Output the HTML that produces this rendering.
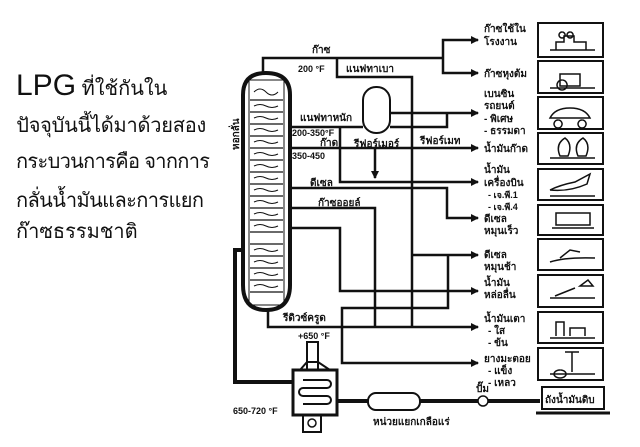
<!DOCTYPE html>
<html><head><meta charset="utf-8"><style>
body{margin:0;background:#fff;width:640px;height:447px;overflow:hidden}
svg{position:absolute;left:0;top:0}
text{font-family:"Liberation Sans","Noto Sans CJK SC",sans-serif;fill:#111}
</style></head><body>
<svg width="640" height="447" viewBox="0 0 640 447">
<defs><marker id="a" markerWidth="8" markerHeight="8" refX="7" refY="4" orient="auto" markerUnits="userSpaceOnUse"><path d="M0,0L8,4L0,8z" fill="#111"/></marker></defs>
<g font-size="20">
<text x="16" y="95"><tspan font-size="30">LPG</tspan> ที่ใช้กันใน</text>
<text x="16" y="132" textLength="190">ปัจจุบันนี้ได้มาด้วยสอง</text>
<text x="16" y="168" textLength="194">กระบวนการคือ จากการ</text>
<text x="16" y="207" textLength="188">กลั่นน้ำมันและการแยก</text>
<text x="16" y="238">ก๊าซธรรมชาติ</text>
</g>
<g fill="none" stroke="#111" stroke-width="2.5">
<path d="M243,95 Q243,73 266,73 Q290,73 290,95 L290,285 Q290,310 266,310 Q243,310 243,285 Z" stroke-width="4"/>
<rect x="249" y="80" width="35" height="225" stroke-width="1"/>
<path d="M250,100h33M250,112h33M250,124h33M250,136h33M250,148h33M250,160h33M250,172h33M250,184h33M250,196h33M250,208h33M250,220h33M250,232h33M250,244h33M250,256h33M250,268h33M250,280h33M250,292h33" stroke-width="1.2"/>
<path d="M254,106q6,-3 12,0t12,0M254,118q6,-3 12,0t12,0M254,130q6,-3 12,0t12,0M254,142q6,-3 12,0t12,0M254,154q6,-3 12,0t12,0M254,166q6,-3 12,0t12,0M254,178q6,-3 12,0t12,0M254,190q6,-3 12,0t12,0M254,202q6,-3 12,0t12,0M254,214q6,-3 12,0t12,0M254,226q6,-3 12,0t12,0M254,250q6,-3 12,0t12,0M254,262q6,-3 12,0t12,0M254,274q6,-3 12,0t12,0M254,286q6,-3 12,0t12,0M254,92q6,-6 12,0t12,0" stroke-width="1"/>
<path d="M263,73V58H443"/>
<path d="M443,58V40H478" marker-end="url(#a)"/>
<path d="M443,58V73H478" marker-end="url(#a)"/>
<path d="M337,58V77H412V327"/>
<rect x="363" y="87" width="27" height="46" rx="13" stroke-width="2"/>
<path d="M290,127H363"/>
<path d="M390,113H478" marker-end="url(#a)"/>
<path d="M390,127H447V113"/>
<path d="M290,148H478" marker-end="url(#a)"/>
<path d="M375,148V178" marker-end="url(#a)"/>
<path d="M340,127V182H478" marker-end="url(#a)"/>
<path d="M290,188H447V218H478" marker-end="url(#a)"/>
<path d="M290,208H375V327"/>
<path d="M290,228H340V291H478" marker-end="url(#a)"/>
<path d="M412,255H478" marker-end="url(#a)"/>
<path d="M448,255V308H342V363H478" marker-end="url(#a)"/>
<path d="M268,310V327H478" marker-end="url(#a)"/>
<rect x="307" y="342" width="11" height="28" stroke-width="2"/>
<path d="M300,370L307,362H318L330,370Z" stroke-width="2"/>
<rect x="293" y="370" width="44" height="45" stroke-width="3"/>
<path d="M303,380h24a4,4 0 0 1 0,8h-24a4,4 0 0 0 0,8h24a4,4 0 0 1 0,8h-24" stroke-width="2"/>
<rect x="303" y="415" width="18" height="17" stroke-width="2"/>
<circle cx="312" cy="423" r="4" stroke-width="1.5"/>
<path d="M293,382H235V250H243" stroke-width="4"/>
<path d="M337,401H540" stroke-width="4"/>
<rect x="368" y="393" width="52" height="17" rx="8" fill="#fff" stroke-width="2"/>
<circle cx="483" cy="401" r="5" fill="#fff" stroke-width="1.5"/>
<rect x="542" y="387" width="62" height="22" stroke-width="2"/>
<path d="M536,413H610" stroke-width="3"/>
<g stroke-width="2">
<rect x="538" y="23" width="65" height="34"/><rect x="538" y="61" width="65" height="32"/>
<rect x="538" y="97" width="65" height="32"/><rect x="538" y="133" width="65" height="31"/>
<rect x="538" y="169" width="65" height="31"/><rect x="538" y="205" width="65" height="30"/>
<rect x="538" y="239" width="65" height="31"/><rect x="538" y="275" width="65" height="32"/>
<rect x="538" y="312" width="65" height="31"/><rect x="538" y="348" width="65" height="32"/>
</g>
<g stroke-width="1.5"><path d="M550,50h45M556,50v-8h8v-6h10v6h12v8M562,32a3,3 0 1 0 0.1,0M570,32a3,3 0 1 0 0.1,0M550,88h45M560,86v-12h20v12zM562,80a5,5 0 1 0 0.1,0M550,118q5,-10 20,-10 15,0 20,10zM558,120a4,4 0 1 0 0.1,0M582,120a4,4 0 1 0 0.1,0M550,158h45M560,156q-5,-12 5,-18q8,6 3,18zM578,156q-5,-12 5,-18q8,6 3,18zM550,190q10,-5 25,-8l15,-8l-3,10q-18,8 -37,6M550,196h45M552,228h42M556,225v-12h34v12zM550,262q15,-5 45,-4M560,258l10,-8 10,2M550,298h45M555,296l20,-8M580,286l8,-6 5,6zM550,338h45M556,336v-14h8v14M570,336v-8h15v8M550,374h45M572,372v-20M565,352h14M560,370a6,4 0 1 0 0.1,0"/></g>
</g>
<g font-size="10" font-weight="bold">
<text x="312" y="53">ก๊าซ</text><text x="298" y="72" font-size="9">200 °F</text>
<text x="346" y="72">แนฟทาเบา</text><text x="300" y="121">แนฟทาหนัก</text>
<text x="292" y="136" font-size="9">200-350°F</text><text x="320" y="146">ก๊าด</text>
<text x="292" y="159" font-size="9">350-450</text>
<text x="354" y="147">รีฟอร์เมอร์</text><text x="420" y="144">รีฟอร์เมท</text>
<text x="310" y="186">ดีเซล</text><text x="318" y="206">ก๊าซออยล์</text>
<text x="283" y="321">รีดิวซ์ครูด</text><text x="298" y="339" font-size="9">+650 °F</text>
<text x="233" y="414" font-size="9">650-720 °F</text>
<text x="373" y="425">หน่วยแยกเกลือแร่</text><text x="476" y="392">ปั๊ม</text>
<text x="545" y="403">ถังน้ำมันดิบ</text>
<text x="484" y="32">ก๊าซใช้ใน</text><text x="484" y="45">โรงงาน</text>
<text x="484" y="77">ก๊าซหุงต้ม</text>
<text x="484" y="97">เบนซิน</text><text x="484" y="109">รถยนต์</text><text x="484" y="122">- พิเศษ</text><text x="484" y="134">- ธรรมดา</text>
<text x="484" y="152">น้ำมันก๊าด</text>
<text x="484" y="173">น้ำมัน</text><text x="484" y="186">เครื่องบิน</text><text x="488" y="198" font-size="9">- เจ.พี.1</text><text x="488" y="210" font-size="9">- เจ.พี.4</text>
<text x="484" y="222">ดีเซล</text><text x="484" y="234">หมุนเร็ว</text>
<text x="484" y="258">ดีเซล</text><text x="484" y="270">หมุนช้า</text>
<text x="484" y="286">น้ำมัน</text><text x="484" y="298">หล่อลื่น</text>
<text x="484" y="322">น้ำมันเตา</text><text x="488" y="334">- ใส</text><text x="488" y="346">- ข้น</text>
<text x="484" y="362">ยางมะตอย</text><text x="488" y="374">- แข็ง</text><text x="488" y="386">- เหลว</text>
<text transform="translate(239,150) rotate(-90)">หอกลั่น</text>
</g>
</svg>
</body></html>
